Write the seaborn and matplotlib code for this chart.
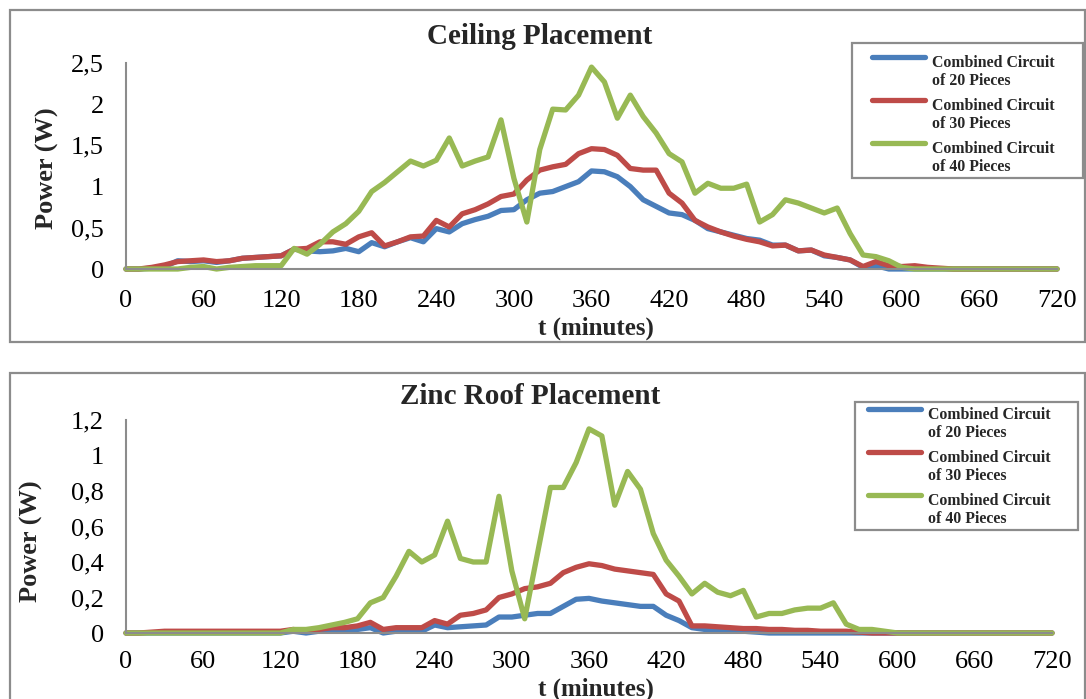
import numpy as np
import pandas as pd
import matplotlib
matplotlib.use("Agg")
import matplotlib.pyplot as plt
from matplotlib.patches import Rectangle
from matplotlib.ticker import FuncFormatter
from matplotlib.legend_handler import HandlerLine2D
import seaborn as sns

# ---------------- data ----------------
t_minutes = list(range(0, 730, 10))

ceiling_20 = [0, 0, 0.01, 0.03, 0.10, 0.09, 0.10, 0.08, 0.10, 0.13, 0.14, 0.15, 0.16,
              0.24, 0.22, 0.21, 0.22, 0.25, 0.21, 0.32, 0.27, 0.33, 0.38, 0.33, 0.49,
              0.45, 0.55, 0.60, 0.64, 0.71, 0.72, 0.84, 0.92, 0.94, 1.00, 1.06, 1.19,
              1.18, 1.12, 1.00, 0.84, 0.76, 0.68, 0.66, 0.59, 0.49, 0.45, 0.41, 0.37,
              0.35, 0.29, 0.29, 0.22, 0.23, 0.16, 0.14, 0.11, 0.02, 0.04, 0, 0,
              0, 0, 0, 0, 0, 0, 0, 0, 0, 0, 0, 0]
ceiling_30 = [0, 0, 0.02, 0.05, 0.09, 0.10, 0.11, 0.09, 0.10, 0.13, 0.14, 0.15, 0.16,
              0.24, 0.25, 0.33, 0.33, 0.30, 0.39, 0.44, 0.28, 0.33, 0.39, 0.40, 0.59,
              0.51, 0.67, 0.72, 0.79, 0.88, 0.91, 1.08, 1.20, 1.24, 1.27, 1.40, 1.46,
              1.45, 1.38, 1.22, 1.20, 1.20, 0.92, 0.80, 0.59, 0.51, 0.45, 0.40, 0.36,
              0.33, 0.28, 0.29, 0.22, 0.23, 0.17, 0.14, 0.11, 0.03, 0.09, 0.04, 0.03,
              0.04, 0.02, 0.01, 0, 0, 0, 0, 0, 0, 0, 0, 0]
ceiling_40 = [0, 0, 0, 0, 0, 0.02, 0.03, 0.0, 0.02, 0.03, 0.04, 0.04, 0.04,
              0.25, 0.18, 0.30, 0.45, 0.55, 0.70, 0.94, 1.05, 1.18, 1.31, 1.25, 1.32,
              1.59, 1.25, 1.31, 1.36, 1.81, 1.10, 0.57, 1.45, 1.94, 1.93, 2.11, 2.45,
              2.27, 1.83, 2.11, 1.85, 1.65, 1.40, 1.30, 0.92, 1.04, 0.98, 0.98, 1.03,
              0.57, 0.66, 0.84, 0.80, 0.74, 0.68, 0.74, 0.43, 0.17, 0.15, 0.10, 0.02,
              0, 0, 0, 0, 0, 0, 0, 0, 0, 0, 0, 0]

zinc_20 = [0, 0, 0, 0, 0, 0, 0, 0, 0, 0, 0, 0, 0,
           0.01, 0.0, 0.01, 0.01, 0.01, 0.02, 0.03, 0.0, 0.01, 0.01, 0.01, 0.045,
           0.03, 0.035, 0.04, 0.045, 0.09, 0.09, 0.10, 0.11, 0.11, 0.15, 0.19, 0.195,
           0.18, 0.17, 0.16, 0.15, 0.15, 0.10, 0.07, 0.03, 0.02, 0.015, 0.01, 0.01,
           0.005, 0, 0, 0, 0, 0, 0, 0, 0, 0, 0, 0,
           0, 0, 0, 0, 0, 0, 0, 0, 0, 0, 0, 0]
zinc_30 = [0, 0, 0.005, 0.01, 0.01, 0.01, 0.01, 0.01, 0.01, 0.01, 0.01, 0.01, 0.01,
           0.02, 0.01, 0.02, 0.03, 0.03, 0.04, 0.06, 0.02, 0.03, 0.03, 0.03, 0.07,
           0.05, 0.10, 0.11, 0.13, 0.20, 0.22, 0.25, 0.26, 0.28, 0.34, 0.37, 0.39,
           0.38, 0.36, 0.35, 0.34, 0.33, 0.22, 0.18, 0.04, 0.04, 0.035, 0.03, 0.025,
           0.025, 0.02, 0.02, 0.015, 0.015, 0.01, 0.01, 0.01, 0.005, 0, 0, 0,
           0, 0, 0, 0, 0, 0, 0, 0, 0, 0, 0, 0]
zinc_40 = [0, 0, 0, 0, 0, 0, 0, 0, 0, 0, 0, 0, 0,
           0.02, 0.02, 0.03, 0.045, 0.06, 0.08, 0.17, 0.20, 0.32, 0.46, 0.40, 0.44,
           0.63, 0.42, 0.40, 0.40, 0.77, 0.35, 0.08, 0.45, 0.82, 0.82, 0.96, 1.15,
           1.11, 0.72, 0.91, 0.81, 0.56, 0.41, 0.32, 0.22, 0.28, 0.23, 0.21, 0.24,
           0.09, 0.11, 0.11, 0.13, 0.14, 0.14, 0.17, 0.05, 0.02, 0.02, 0.01, 0,
           0, 0, 0, 0, 0, 0, 0, 0, 0, 0, 0, 0]

series_labels = ["Combined Circuit\nof 20 Pieces",
                 "Combined Circuit\nof 30 Pieces",
                 "Combined Circuit\nof 40 Pieces"]
x_ticks = list(range(0, 721, 60))
ceiling_yticks = [0, 0.5, 1, 1.5, 2, 2.5]
zinc_yticks = [0, 0.2, 0.4, 0.6, 0.8, 1.0, 1.2]
titles = ["Ceiling Placement", "Zinc Roof Placement"]

colors = ["#4A7EBB", "#BE4B48", "#98B954"]

# ---------------- style ----------------
sns.set_style("white")
plt.rcParams["font.family"] = ["Liberation Serif", "DejaVu Serif"]

W, H = 1086, 699
fig = plt.figure(figsize=(W / 100, H / 100), dpi=100)


def fx(px):
    return px / W


def fy(py):
    return 1 - py / H


class UpHandler(HandlerLine2D):
    def __init__(self, shift, **kw):
        super().__init__(**kw)
        self.shift = shift

    def create_artists(self, legend, orig_handle, xdescent, ydescent, width, height,
                       fontsize, trans):
        return super().create_artists(legend, orig_handle, xdescent,
                                      ydescent - 2 * self.shift, width, height,
                                      fontsize, trans)


def frame(x0, y0, x1, y1, lw=1.6):
    fig.patches.append(Rectangle((fx(x0), fy(y1)), fx(x1) - fx(x0), fy(y0) - fy(y1),
                                 transform=fig.transFigure, fill=False,
                                 edgecolor="#8c8c8c", lw=lw, zorder=0))


# outer panel borders
frame(10, 10, 1085, 342)
frame(10, 373, 1085, 710)

panels = [
    dict(data=[ceiling_20, ceiling_30, ceiling_40], yticks=ceiling_yticks, ymax=2.5,
         ax=(126, 63, 1057, 269), title=(540, 44), xlabel=(596, 328), ylabel=(47, 168),
         xpad=15, legend_anchor=(872, 55), legend_box=(852, 43, 1083, 178)),
    dict(data=[zinc_20, zinc_30, zinc_40], yticks=zinc_yticks, ymax=1.2,
         ax=(126, 420, 1052, 633), title=(530, 404), xlabel=(596, 689), ylabel=(31, 541),
         xpad=13, legend_anchor=(868, 407), legend_box=(855, 402, 1078, 530)),
]

fmt = FuncFormatter(lambda v, p: ("%g" % round(v, 2)).replace(".", ","))

for i, p in enumerate(panels):
    l, t, r, b = p["ax"]
    ax = fig.add_axes([fx(l), fy(b), fx(r) - fx(l), fy(t) - fy(b)])
    for vals, c, lab in zip(p["data"], colors, series_labels):
        df = pd.DataFrame({"t": t_minutes, "P": vals})
        sns.lineplot(data=df, x="t", y="P", ax=ax, color=c, lw=3.8, label=lab,
                     solid_joinstyle="round", solid_capstyle="round", clip_on=False)
    ax.set_xlim(0, 720)
    ax.set_ylim(0, p["ymax"])
    ax.set_xticks(x_ticks)
    ax.set_yticks(p["yticks"])
    ax.yaxis.set_major_formatter(fmt)
    ax.tick_params(axis="both", length=0, labelsize=19, colors="black")
    ax.tick_params(axis="y", pad=16)
    ax.tick_params(axis="x", pad=p["xpad"])
    for s in ["top", "right"]:
        ax.spines[s].set_visible(False)
    for s in ["left", "bottom"]:
        ax.spines[s].set_color("#8c8c8c")
        ax.spines[s].set_linewidth(1.5)
    ax.set_xlabel("")
    ax.set_ylabel("")
    ax.patch.set_alpha(0)

    fig.text(fx(p["title"][0]), fy(p["title"][1]), titles[i], ha="center", va="baseline",
             fontsize=21, fontweight="bold")
    fig.text(fx(p["xlabel"][0]), fy(p["xlabel"][1]), "t (minutes)", ha="center",
             va="center", fontsize=18, fontweight="bold")
    fig.text(fx(p["ylabel"][0]), fy(p["ylabel"][1]), "Power (W)", ha="center",
             va="center", rotation=90, fontsize=19, fontweight="bold")

    handles = ax.get_lines()[:3]
    leg = ax.legend(handles=handles, labels=series_labels,
                    loc="upper left",
                    bbox_to_anchor=(fx(p["legend_anchor"][0]), fy(p["legend_anchor"][1])),
                    bbox_transform=fig.transFigure, borderaxespad=0, borderpad=0,
                    frameon=False,
                    prop={"family": "Liberation Serif", "weight": "bold", "size": 11.4},
                    handlelength=3.35, handletextpad=0.45, labelspacing=0.56,
                    handler_map={h: UpHandler(11.5) for h in handles})
    for txt in leg.get_texts():
        txt.set_linespacing(1.18)
    frame(*p["legend_box"])

fig.savefig("out.png", dpi=100)
